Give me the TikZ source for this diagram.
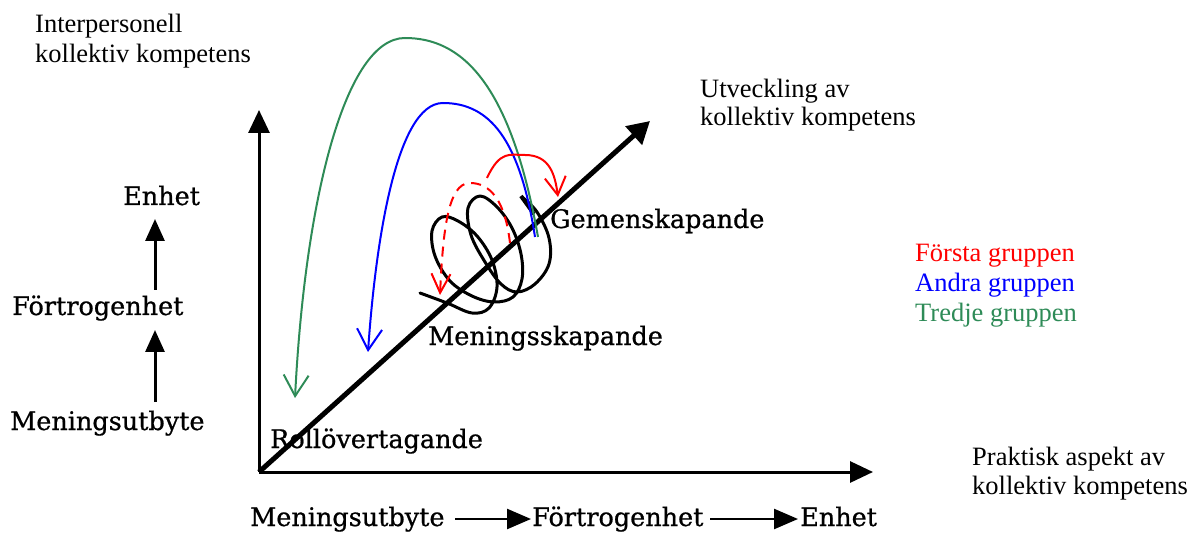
\documentclass[tikz,border=0pt]{standalone}
\usepackage{fontspec}
\setmainfont{Liberation Serif}
\newfontfamily\scanfont[FakeBold=0.8]{DejaVu Serif}
\usetikzlibrary{arrows.meta}
\definecolor{tgreen}{RGB}{46,139,87}
\begin{document}
\begin{tikzpicture}[x=1pt,y=-1pt,
  lbl/.style={anchor=base west, inner sep=0pt, font=\fontsize{26.5}{30}\selectfont},
  scan/.style={anchor=base west, inner sep=0pt, font=\scanfont\fontsize{25.5}{30}\selectfont},
  axis/.style={line width=3pt, -{Triangle[length=23pt,width=21pt]}},
  diag/.style={line width=5pt, -{Triangle[length=22pt,width=24pt]}},
  small/.style={line width=3pt, -{Triangle[length=22pt,width=19pt]}},
  smallh/.style={line width=2.5pt, -{Triangle[length=24pt,width=20pt]}},
  grp/.style={line width=2pt, -{Straight Barb[length=21pt,width=25pt]}},
  helix/.style={line width=3pt, line cap=round, line join=round}
]
\useasboundingbox (0,0) rectangle (1191,534);

% axes
\coordinate (O) at (259,472);
\coordinate (Ytip) at (259,110);
\coordinate (Xtip) at (873,472);
\coordinate (Dtip) at (650,121);
\draw[axis] (O) -- (Ytip);
\draw[axis] (O) -- (Xtip);
\draw[diag] (O) -- (Dtip);

% texts (Times-like)
\node[lbl] (ip1) at (35,33) {Interpersonell};
\node[lbl] (ip2) at (35,63) {kollektiv kompetens};
\node[lbl] (ut1) at (700,98) {Utveckling av};
\node[lbl] (ut2) at (700,126) {kollektiv kompetens};
\node[lbl] (pr1) at (972,465) {Praktisk aspekt av};
\node[lbl] (pr2) at (972,494) {kollektiv kompetens};
\node[lbl, text=red] (g1) at (915,262) {Första gruppen};
\node[lbl, text=blue] (g2) at (915,292) {Andra gruppen};
\node[lbl, text=tgreen] (g3) at (915,322) {Tredje gruppen};

% scanned labels
\node[scan] (le) at (123,205) {Enhet};
\node[scan] (lf) at (12,315) {Förtrogenhet};
\node[scan] (lm) at (10,430) {Meningsutbyte};
\node[scan] (gem) at (550,228) {Gemenskapande};
\node[scan] (men) at (428,345) {Meningsskapande};
\node[scan] (rol) at (270,448) {Rollövertagande};
\node[scan] (bm) at (250,526) {Meningsutbyte};
\node[scan] (bf) at (532,526) {Förtrogenhet};
\node[scan] (be) at (800,526) {Enhet};

% small arrows
\coordinate (la1) at (155,402); \coordinate (la2) at (155,330);
\coordinate (la3) at (155,290); \coordinate (la4) at (155,219);
\draw[small] (la1) -- (la2);
\draw[small] (la3) -- (la4);
\coordinate (ba1) at (455,519); \coordinate (ba2) at (531,519);
\coordinate (ba3) at (710,519); \coordinate (ba4) at (798,519);
\draw[smallh] (ba1) -- (ba2);
\draw[smallh] (ba3) -- (ba4);

% helix
\draw[helix] plot[smooth, tension=0.6] coordinates {(420,293) (447,303) (472,313) (489,308) (497,287) (492,260) (477,236) (458,221) (442,217) (432,231) (435,256) (450,281) (472,296) (494,302) (513,297) (522,279) (521,254) (512,228) (497,207) (480,196) (468,208) (471,235) (485,262) (501,284) (517,292) (535,284) (549,264) (549,238) (537,212) (522,197)};
\draw[line width=4pt] (521,196) -- (534,214);

% group curves
\draw[grp, tgreen] (538,237) .. controls (510,80) and (460,38) .. (405,38) .. controls (345,38) and (305,200) .. (295,398);
\draw[grp, blue] (535,237) .. controls (520,140) and (490,103) .. (443,103) .. controls (395,103) and (375,250) .. (368,352);
\draw[grp, red, -{Straight Barb[length=18pt,width=21pt]}] (487,178) .. controls (500,150) and (510,155) .. (525,155) .. controls (550,155) and (555,175) .. (558,197);
\draw[grp, red, dash pattern=on 10pt off 7pt, -{Straight Barb[length=19pt,width=19pt]}] (510,243) .. controls (505,200) and (490,183) .. (470,183) .. controls (448,183) and (443,230) .. (440,295);
\end{tikzpicture}
\end{document}
